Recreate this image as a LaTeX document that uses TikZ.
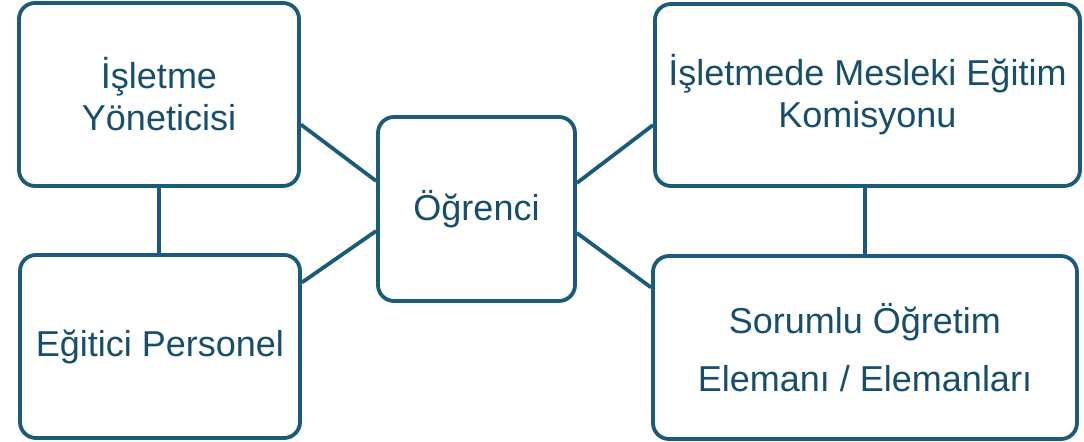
\documentclass[tikz,border=0pt]{standalone}
\usepackage{fontspec}
\setmainfont{Liberation Sans}
\usetikzlibrary{positioning}

\definecolor{boxblue}{HTML}{1A5B7B}
\definecolor{textblue}{HTML}{174F6B}

\tikzset{
    role/.style={draw=boxblue, line width=1.9pt, rounded corners=8pt,
        text=textblue, align=center, inner sep=0pt,
        font=\fontsize{18}{21}\selectfont},
    link/.style={draw=boxblue, line width=1.9pt},
}

\begin{document}
\begin{tikzpicture}[x=0.5pt,y=-0.5pt]
            \useasboundingbox (0,0) rectangle (1084,442);

            % boxes
            \node [role, minimum width=140pt, minimum height=91.5pt] (yonetici) at (159,94.5) {İşletme\\Yöneticisi};
            \node [role, minimum width=140pt, minimum height=91.5pt] (personel) at (160,346.5) {Eğitici Personel};
            \node [role, minimum width=98.5pt, minimum height=92pt] (ogrenci) at (476.5,209) {Öğrenci};
            \node [role, minimum width=212.5pt, minimum height=91pt] (komisyon) at (867.5,95) {İşletmede Mesleki Eğitim\\Komisyonu};
            \node [role, minimum width=212pt, minimum height=91.5pt,
                   font=\fontsize{18}{29}\selectfont] (ogretim) at (865,347.5) {Sorumlu Öğretim\\Elemanı / Elemanları};

            % links
            \draw [link] (yonetici.south) -- (yonetici.south |- personel.north);
            \draw [link] (ogretim.north |- komisyon.south) -- (ogretim.north);
            \draw [link] ([yshift=-15pt]yonetici.east) -- ([yshift=14pt]ogrenci.west);
            \draw [link] ([yshift=32pt]personel.east) -- ([yshift=-11pt]ogrenci.west);
            \draw [link] ([yshift=13pt]ogrenci.east) -- ([yshift=-15pt]komisyon.west);
            \draw [link] ([yshift=-12pt]ogrenci.east) -- ([yshift=30pt]ogretim.west);

\end{tikzpicture}
\end{document}
